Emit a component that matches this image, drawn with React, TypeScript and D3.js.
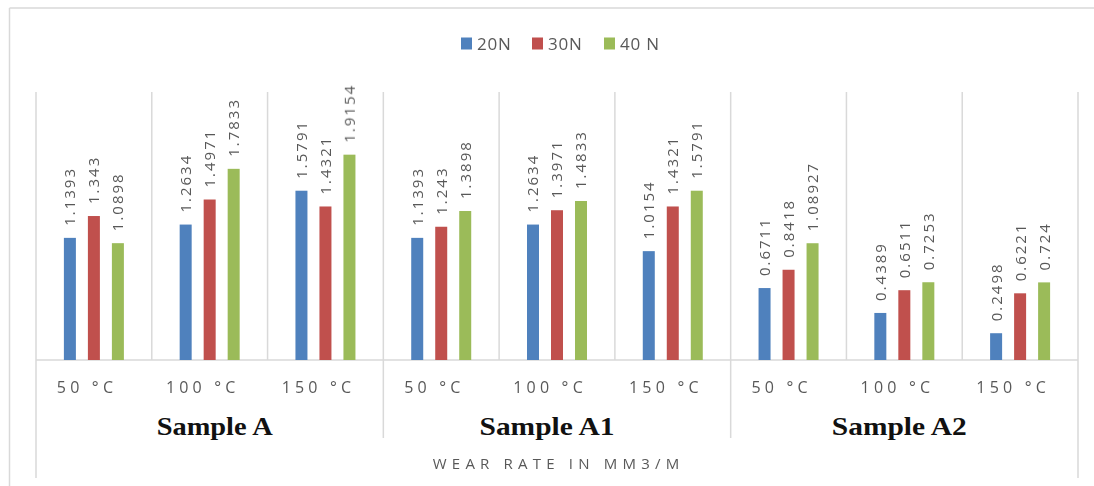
import React from "react";
import * as d3 from "d3";

// Wear rate (mm3/m) by sample, temperature and applied load
const groups = ["Sample A", "Sample A1", "Sample A2"];
const temperatures = ["50 °C", "100 °C", "150 °C"];
const seriesNames = ["20N", "30N", "40 N"];
const load20N = [1.1393, 1.2634, 1.5791, 1.1393, 1.2634, 1.0154, 0.6711, 0.4389, 0.2498];
const load30N = [1.343, 1.4971, 1.4321, 1.243, 1.3971, 1.4321, 0.8418, 0.6511, 0.6221];
const load40N = [1.0898, 1.7833, 1.9154, 1.3898, 1.4833, 1.5791, 1.08927, 0.7253, 0.724];
const axisTitle = "WEAR RATE IN MM3/M";

const colors = ["#4F81BD", "#C0504D", "#9BBB59"];
const gridColor = "#d9d9d9";
const textColor = "#595959";

const W = 1094;
const H = 486;
const plot = { left: 36, right: 1078, top: 92, bottom: 360 };

export default function App() {
  const series = [load20N, load30N, load40N];
  const categories = groups.flatMap((g) => temperatures.map((t) => `${g}|${t}`));

  const x = d3.scaleBand<string>().domain(categories).range([plot.left, plot.right]).padding(0);
  const y = d3.scaleLinear().domain([0, 2.5]).range([plot.bottom, plot.top]);
  const offset = d3.scalePoint<string>().domain(seriesNames).range([-24, 24]);
  const barW = 12;
  const groupX = d3
    .scaleBand<string>()
    .domain(groups)
    .range([plot.left, plot.right])
    .padding(0);

  const labelFont = "'Open Sans', 'DejaVu Sans', sans-serif";
  const catSpacing = 4.2;

  return (
    <svg width={W} height={H} style={{ display: "block", position: "absolute", left: 0, top: 0 }}>
      <defs>
        <filter id="soft" x="-5%" y="-5%" width="110%" height="110%">
          <feGaussianBlur stdDeviation="0.35" />
        </filter>
      </defs>
      <rect x={0} y={0} width={W} height={H} fill="#fff" />
      {/* chart frame */}
      <line x1={9.5} x2={W} y1={8} y2={8} stroke={gridColor} strokeWidth={1.5} />
      <line x1={9.5} x2={9.5} y1={8} y2={H} stroke={gridColor} strokeWidth={1.5} />

      {/* legend */}
      <g fontFamily={labelFont} fontSize={17} fill={textColor} letterSpacing={0.8} filter="url(#soft)">
        {seriesNames.map((name, i) => {
          const lx = [461, 532, 604][i];
          return (
            <g key={name}>
              <rect x={lx} y={37.5} width={11} height={12} fill={colors[i]} />
              <text x={lx + 16} y={49.5}>{name}</text>
            </g>
          );
        })}
      </g>

      {/* category separators */}
      {categories.map((c, i) => {
        const xl = x(c)!;
        const isGroupEdge = i % temperatures.length === 0;
        const isOuter = i === 0;
        return (
          <line
            key={c}
            x1={xl}
            x2={xl}
            y1={plot.top}
            y2={isOuter ? 478 : isGroupEdge ? 438 : plot.bottom}
            stroke={gridColor}
            strokeWidth={1.5}
          />
        );
      })}
      <line x1={plot.right} x2={plot.right} y1={plot.top} y2={478} stroke={gridColor} strokeWidth={1.5} />
      <line x1={plot.left} x2={plot.right} y1={plot.bottom} y2={plot.bottom} stroke={gridColor} strokeWidth={1.5} />

      {/* bars */}
      {series.map((vals, si) =>
        vals.map((v, ci) => {
          const cx = x(categories[ci])! + x.bandwidth() / 2 + offset(seriesNames[si])!;
          return (
            <rect
              key={`${si}-${ci}`}
              x={cx - barW / 2}
              y={y(v)}
              width={barW}
              height={y(0) - y(v)}
              fill={colors[si]}
            />
          );
        })
      )}

      {/* value labels */}
      <g fontFamily={labelFont} fontSize={15} fill={textColor} letterSpacing={2} filter="url(#soft)">
        {series.map((vals, si) =>
          vals.map((v, ci) => {
            const cx = x(categories[ci])! + x.bandwidth() / 2 + offset(seriesNames[si])!;
            const ty = y(v) - 12;
            return (
              <text
                key={`${si}-${ci}`}
                transform={`translate(${cx + 5.4},${ty}) rotate(-90)`}
                textAnchor="start"
              >
                {String(v)}
              </text>
            );
          })
        )}
      </g>

      {/* temperature labels */}
      <g fontFamily={labelFont} fontSize={16} fill={textColor} letterSpacing={catSpacing} filter="url(#soft)">
        {categories.map((c) => (
          <text key={c} x={x(c)! + x.bandwidth() / 2 - 9 + catSpacing / 2} y={393} textAnchor="middle">
            {c.split("|")[1]}
          </text>
        ))}
      </g>

      {/* sample labels */}
      <g fontFamily="'Liberation Serif', 'Times New Roman', serif" fontWeight="bold" fontSize={25} fill="#111">
        {groups.map((g, i) => {
          const cx = groupX(g)! + groupX.bandwidth() / 2 + [5, -10, -5][i];
          const len = g.length > 8 ? 135 : 116;
          return (
            <text
              key={g}
              x={cx - len / 2}
              y={435}
              textLength={len}
              lengthAdjust="spacingAndGlyphs"
            >
              {g}
            </text>
          );
        })}
      </g>

      {/* axis title */}
      <text
        x={556 + 2.6}
        y={469}
        textAnchor="middle"
        fontFamily={labelFont}
        fontSize={15}
        letterSpacing={5.2}
        fill={textColor}
        filter="url(#soft)"
      >
        {axisTitle}
      </text>
    </svg>
  );
}
